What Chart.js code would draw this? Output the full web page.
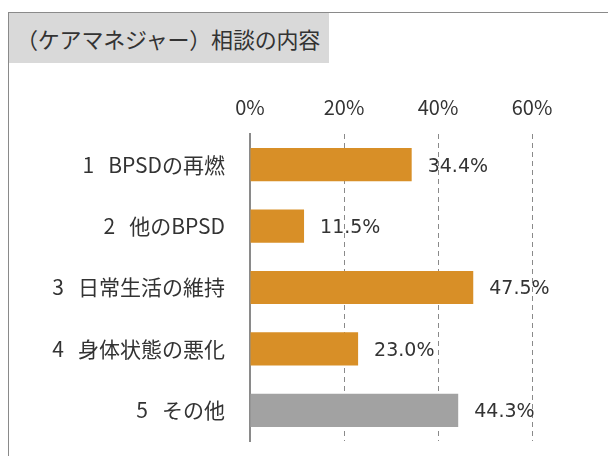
<!DOCTYPE html>
<html>
<head>
<meta charset="utf-8">
<script src="https://cdn.jsdelivr.net/npm/chart.js@4"></script>
<style>
  body { margin: 0; background: #fff; }
  #wrap { position: relative; width: 608px; height: 456px; overflow: hidden; }
  #frame { position: absolute; left: 8px; top: 12px; width: 620px; height: 460px;
           border-left: 1px solid #8a8a8a; border-top: 1px solid #8a8a8a; }
  #titleBox { position: absolute; left: 9px; top: 13px; width: 320px; height: 50px;
              background: #d9d9d9; }
  #titleBox span { position: absolute; left: 7px; top: 10px; font-family: 'Noto Sans CJK JP';
                   font-size: 22px; letter-spacing: -0.2px; color: #333; white-space: nowrap; line-height: 30px; }
  canvas { position: absolute; left: 0; top: 0; }
</style>
</head>
<body>
<div id="wrap">
  <div id="frame"></div>
  <div id="titleBox"><span>（ケアマネジャー）相談の内容</span></div>
  <canvas id="grafico" width="608" height="456"></canvas>
</div>
<script>
const categorias = ['1   BPSDの再燃', '2   他のBPSD', '3   日常生活の維持', '4   身体状態の悪化', '5   その他'];
const valores = [34.4, 11.5, 47.5, 23.0, 44.3];
const cores = ['#d88f27', '#d88f27', '#d88f27', '#d88f27', '#a2a2a2'];
const ticksX = [0, 20, 40, 60];

const fonte = 'Noto Sans CJK JP';

// rótulos de valor ao lado das barras
const rotulos = {
  id: 'rotulos',
  afterDatasetsDraw(chart) {
    const ctx = chart.ctx;
    const meta = chart.getDatasetMeta(0);
    ctx.save();
    ctx.font = '19px "DejaVu Sans"';
    ctx.fillStyle = '#333';
    ctx.textAlign = 'left';
    ctx.textBaseline = 'middle';
    meta.data.forEach((bar, i) => {
      ctx.fillText(valores[i].toFixed(1) + '%', bar.x + 16, bar.y + 2);
    });
    ctx.restore();
  }
};

const ctx = document.getElementById('grafico').getContext('2d');
new Chart(ctx, {
  type: 'bar',
  data: {
    labels: categorias,
    datasets: [{
      data: valores,
      backgroundColor: cores,
      barPercentage: 0.54,
      categoryPercentage: 1
    }]
  },
  options: {
    indexAxis: 'y',
    responsive: false,
    animation: false,
    layout: { padding: { left: 0, right: 76, top: 70, bottom: 15 } },
    plugins: { legend: { display: false }, tooltip: { enabled: false } },
    scales: {
      x: {
        position: 'top',
        min: 0,
        max: 60,
        afterBuildTicks: s => { s.ticks = ticksX.map(v => ({ value: v })); },
        afterFit: s => { s.height = 64; s.paddingLeft = 0; s.paddingRight = 0; },
        ticks: {
          padding: 15,
          color: '#333',
          font: { family: fonte, size: 20 },
          callback: v => v + '%'
        },
        grid: {
          drawTicks: false,
          color: c => (c.tick && c.tick.value === 0) ? 'rgba(0,0,0,0)' : '#8a8a8a',
          lineWidth: 1
        },
        border: { display: false, dash: [5, 4] }
      },
      y: {
        afterFit: s => { s.width = 250; s.paddingTop = 0; s.paddingBottom = 0; },
        ticks: {
          padding: 25,
          color: '#333',
          font: { family: fonte, size: 21 }
        },
        grid: { display: false, drawTicks: false },
        border: { display: true, color: '#8a8a8a', width: 2 }
      }
    }
  },
  plugins: [rotulos]
});
</script>
</body>
</html>
